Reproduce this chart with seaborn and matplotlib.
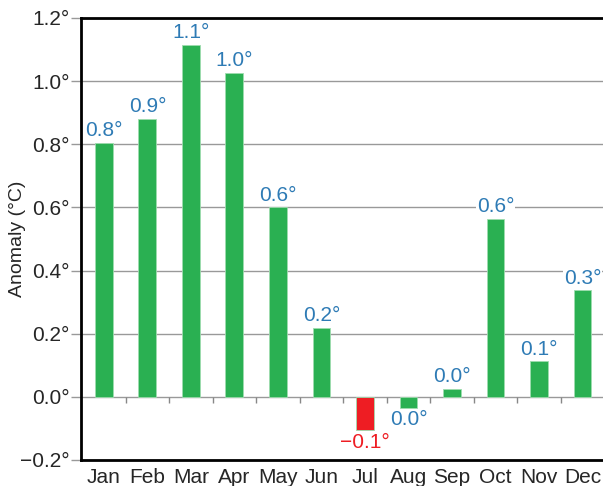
import numpy as np
import pandas as pd
import matplotlib
matplotlib.use('Agg')
import matplotlib.pyplot as plt
import seaborn as sns

# Datos
months = ['Jan', 'Feb', 'Mar', 'Apr', 'May', 'Jun', 'Jul', 'Aug', 'Sep', 'Oct', 'Nov', 'Dec']
anomaly = [0.805, 0.88, 1.115, 1.026, 0.60, 0.218, -0.105, -0.035, 0.025, 0.564, 0.113, 0.338]
value_labels = ['0.8°', '0.9°', '1.1°', '1.0°', '0.6°', '0.2°', '\u22120.1°', '0.0°', '0.0°', '0.6°', '0.1°', '0.3°']
y_ticks = [-0.2, 0.0, 0.2, 0.4, 0.6, 0.8, 1.0, 1.2]

green = '#2ab052'
red = '#ee1d23'
blue = '#2e7bb5'

df = pd.DataFrame({'month': months, 'anomaly': anomaly, 'label': value_labels})
df['signo'] = np.where(df['label'].str.startswith('\u2212'), 'neg', 'pos')

sns.set_style('white')
plt.rcParams['font.family'] = ['Liberation Sans', 'DejaVu Sans']

fig = plt.figure(figsize=(6.03, 4.86), dpi=100)
ax = fig.add_axes([0.134, 0.0535, 0.866, 0.9095])

sns.barplot(data=df, x='month', y='anomaly', hue='signo',
            palette={'pos': green, 'neg': red}, saturation=1, width=0.41, legend=False,
            edgecolor='#9edcae', linewidth=0.6, zorder=3, ax=ax)

ax.set_ylim(-0.2, 1.2)
ax.set_xlim(-0.53, 11.47)
ax.set_yticks(y_ticks)
ax.set_yticklabels([f'{t:.1f}°'.replace('-', '\u2212') for t in y_ticks], fontsize=15)
ax.yaxis.grid(True, color='#999999', linewidth=1, zorder=0)
ax.tick_params(axis='y', which='major', left=True, length=7, width=1, color='#999999', pad=1)
ax.tick_params(axis='x', bottom=False, labelsize=15, pad=2)
ax.set_xlabel('')
ax.set_ylabel('Anomaly (°C)', fontsize=14, va='center')
ax.yaxis.set_label_coords(-0.121, 0.5)

# marcas pequeñas sobre la línea del cero entre barras
ax.vlines(np.arange(0.5, 11.5, 1.0), -0.019, 0, color='#888888', linewidth=1, zorder=2)

for side in ['left', 'bottom', 'top']:
    ax.spines[side].set_visible(True)
    ax.spines[side].set_color('black')
    ax.spines[side].set_linewidth(2)
ax.spines['right'].set_visible(False)

# etiquetas de valores
for i, (v, lab) in enumerate(zip(anomaly, value_labels)):
    col = red if lab.startswith('\u2212') else blue
    if v >= 0:
        ax.text(i, v + 0.008, lab, ha='center', va='bottom', fontsize=15, color=col,
                bbox=dict(facecolor='white', edgecolor='none', pad=0.5), zorder=4)
    else:
        ax.text(i, v - 0.008, lab, ha='center', va='top', fontsize=15, color=col,
                bbox=dict(facecolor='white', edgecolor='none', pad=0.5), zorder=4)

fig.savefig('out.png', dpi=100)
